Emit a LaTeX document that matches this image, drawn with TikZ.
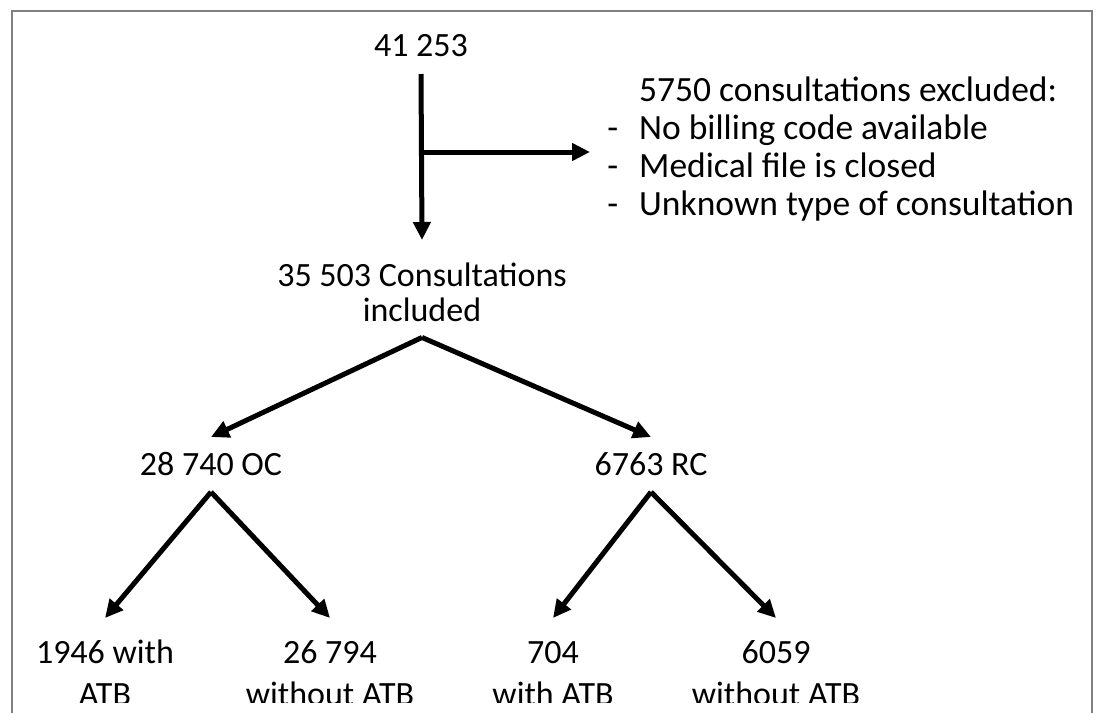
\documentclass[tikz,border=0pt]{standalone}
\usepackage{fontspec}
\setmainfont{Carlito}
\usetikzlibrary{arrows.meta}

\begin{document}
\begin{tikzpicture}[x=1pt,y=-1pt,
    arr/.style={line width=5pt,-{Triangle[length=18pt,width=17pt]}},
    lbl/.style={inner sep=0pt,anchor=base,align=center,font=\fontsize{34}{35}\selectfont},
    leaf/.style={lbl,font=\fontsize{34}{42}\selectfont}]
    \useasboundingbox (0,0) rectangle (1099,713);

    % open frame round the chart
    \draw[gray,line width=2pt] (12,713) -- (12,11) -- (1092,11) -- (1092,713);

    % all consultations and exclusions (base = last line)
    \node[lbl] (total) at (421,56) {41 253};
    \node[lbl] (incl) at (422,321) {35 503 Consultations\\included};
    \node[lbl,anchor=base west,align=left,font=\fontsize{35.5}{38}\selectfont] (excl) at (639,215)
        {5750 consultations excluded:\\
         \llap{-\hspace{21pt}}No billing code available\\
         \llap{-\hspace{21pt}}Medical file is closed\\
         \llap{-\hspace{21pt}}Unknown type of consultation};
    \coordinate (split) at (422,152);

    \draw[arr] ([yshift=-18pt]total.base) -- ([yshift=81pt]incl.base);
    \draw[arr,shorten >=49pt] (split) -- (split -| excl.west);

    % OC / RC
    \node[lbl] (oc) at (211,475) {28 740 OC};
    \node[lbl] (rc) at (651,475) {6763 RC};
    \draw[arr] ([yshift=-16pt]incl.south) -- ([yshift=38pt]oc.base);
    \draw[arr] ([yshift=-16pt]incl.south) -- ([yshift=38pt]rc.base);

    % with / without antibiotics (text cut at the lower edge)
    \begin{scope}
        \clip (0,0) rectangle (1099,702);
        \node[leaf] (ocwith) at (105,705) {1946 with\\ATB};
        \node[leaf] (ocwithout) at (330,705) {26 794\\without ATB};
        \node[leaf] (rcwith) at (553,705) {704\\with ATB};
        \node[leaf] (rcwithout) at (776,705) {6059\\without ATB};
    \end{scope}
    \draw[arr] ([yshift=-17pt]oc.base) -- ([yshift=87pt]ocwith.base);
    \draw[arr] ([yshift=-17pt]oc.base) -- ([yshift=87pt]ocwithout.base);
    \draw[arr] ([yshift=-17pt]rc.base) -- ([yshift=87pt]rcwith.base);
    \draw[arr] ([yshift=-17pt]rc.base) -- ([yshift=87pt]rcwithout.base);
\end{tikzpicture}
\end{document}
